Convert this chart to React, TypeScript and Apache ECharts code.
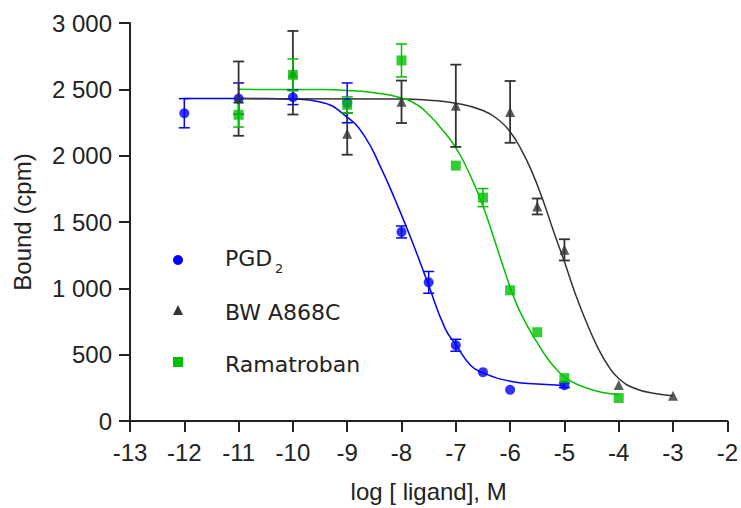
import React, { useEffect, useRef } from "react";
import * as echarts from "echarts";

// ---- Data ----
const xTicks = [-13, -12, -11, -10, -9, -8, -7, -6, -5, -4, -3, -2];
const yTicks = [0, 500, 1000, 1500, 2000, 2500, 3000];

const seriesNames = ["PGD2", "BW A868C", "Ramatroban"];

// PGD2 measured points
const pgdX = [-12, -11, -10, -9, -8, -7.5, -7, -6.5, -6, -5];
const pgdY = [2320, 2430, 2440, 2398, 1425, 1045, 571, 368, 235, 270];
const pgdErr = [110, 118, 55, 150, 45, 82, 45, 0, 0, 18];

// BW A868C measured points
const bwX = [-11, -10, -9, -8, -7, -6, -5.5, -5, -4, -3];
const bwY = [2430, 2625, 2165, 2406, 2376, 2330, 1617, 1290, 271, 190];
const bwErr = [280, 315, 158, 160, 310, 233, 60, 80, 0, 0];

// Ramatroban measured points
const ramX = [-11, -10, -9, -8, -7, -6.5, -6, -5.5, -5, -4];
const ramY = [2308, 2609, 2383, 2718, 1925, 1684, 985, 669, 323, 173];
const ramErr = [92, 120, 60, 124, 0, 68, 0, 0, 0, 0];

// Fitted curves
const pgdFitX = [-12, -10.5, -10, -9.5, -9, -8.67, -8.37, -8.12, -7.82, -7.52, -7.2, -7, -6.73, -6.53, -6, -5.5, -5];
const pgdFitY = [2430, 2430, 2426, 2405, 2290, 2140, 1900, 1670, 1370, 1045, 700, 575, 420, 368, 300, 278, 268];

const bwFitX = [-11, -8, -7.5, -7, -6.5, -6.2, -6, -5.8, -5.6, -5.4, -5.2, -5, -4.8, -4.6, -4.4, -4.2, -4, -3.7, -3.3, -3];
const bwFitY = [2430, 2428, 2418, 2395, 2340, 2265, 2180, 2050, 1880, 1670, 1430, 1200, 960, 750, 565, 420, 320, 245, 205, 190];

const ramFitX = [-11, -9.5, -9, -8.5, -8, -7.7, -7.5, -7.3, -7.1, -6.9, -6.7, -6.5, -6.3, -6.1, -5.9, -5.7, -5.5, -5.3, -5.1, -4.9, -4.6, -4.3, -4];
const ramFitY = [2500, 2498, 2492, 2475, 2435, 2380, 2310, 2220, 2120, 1990, 1820, 1620, 1380, 1130, 900, 730, 590, 465, 370, 305, 250, 215, 200];

const BLUE = "#0000ff";
const DARK = "#333333";
const GREEN = "#00c000";
const AXIS_FONT = "Liberation Sans";
const LEGEND_FONT = "DejaVu Sans";

function zip(xs: number[], ys: number[]) {
  return xs.map((x, i) => [x, ys[i]]);
}
function errData(xs: number[], ys: number[], es: number[]) {
  return xs
    .map((x, i) => [x, ys[i] - es[i], ys[i] + es[i]])
    .filter((_, i) => es[i] > 0);
}

function errSeries(name: string, data: number[][], color: string, lw: number, z: number) {
  return {
    type: "custom",
    name: name + " err",
    data,
    z,
    encode: { x: 0, y: [1, 2] },
    renderItem: (params: any, api: any) => {
      const x = api.value(0);
      const lo = api.coord([x, api.value(1)]);
      const hi = api.coord([x, api.value(2)]);
      const hw = 5.5;
      const style = { stroke: color, lineWidth: lw };
      return {
        type: "group",
        children: [
          { type: "line", shape: { x1: lo[0], y1: lo[1], x2: hi[0], y2: hi[1] }, style },
          { type: "line", shape: { x1: lo[0] - hw, y1: lo[1], x2: lo[0] + hw, y2: lo[1] }, style },
          { type: "line", shape: { x1: hi[0] - hw, y1: hi[1], x2: hi[0] + hw, y2: hi[1] }, style },
        ],
      };
    },
  };
}

function fitSeries(name: string, data: number[][], color: string) {
  return {
    type: "line",
    name,
    data,
    smooth: 0.5,
    showSymbol: false,
    lineStyle: { color, width: 1.5 },
    z: 2,
  };
}

export default function App() {
  const ref = useRef<HTMLDivElement>(null);
  useEffect(() => {
    if (!ref.current) return;
    const chart = echarts.init(ref.current, undefined, { renderer: "svg" });
    const axisText = { fontFamily: AXIS_FONT, fontSize: 24, color: "#222" };
    const legendText = { fontFamily: LEGEND_FONT, fontSize: 22, fill: "#222", verticalAlign: "middle" };
    chart.setOption({
      animation: false,
      backgroundColor: "#ffffff",
      grid: { left: 130, right: 11, top: 23, bottom: 86 },
      xAxis: {
        type: "value",
        min: -13,
        max: -2,
        interval: 1,
        name: "log [ ligand], M",
        nameLocation: "middle",
        nameGap: 58,
        nameTextStyle: axisText,
        axisLine: { show: true, onZero: false, lineStyle: { color: "#222", width: 2 } },
        axisTick: { show: true, length: 11, lineStyle: { color: "#222", width: 2 } },
        axisLabel: {
          ...axisText,
          margin: 19,
          formatter: (v: number) => (xTicks.includes(v) ? String(v) : ""),
        },
        splitLine: { show: false },
      },
      yAxis: {
        type: "value",
        min: 0,
        max: 3000,
        interval: 500,
        name: "Bound (cpm)",
        nameLocation: "middle",
        nameGap: 96,
        nameTextStyle: axisText,
        axisLine: { show: true, onZero: false, lineStyle: { color: "#222", width: 2 } },
        axisTick: { show: true, length: 11, lineStyle: { color: "#222", width: 2 } },
        axisLabel: {
          ...axisText,
          margin: 18,
          formatter: (v: number) => {
            if (!yTicks.includes(v)) return "";
            if (v >= 1000) {
              const th = Math.floor(v / 1000);
              const rest = String(v % 1000).padStart(3, "0");
              return th + " " + rest;
            }
            return String(v);
          },
        },
        splitLine: { show: false },
      },
      series: [
        fitSeries("PGD2 fit", zip(pgdFitX, pgdFitY), BLUE),
        fitSeries("BW A868C fit", zip(bwFitX, bwFitY), DARK),
        fitSeries("Ramatroban fit", zip(ramFitX, ramFitY), GREEN),
        errSeries(seriesNames[0], errData(pgdX, pgdY, pgdErr), BLUE, 1.5, 3),
        errSeries(seriesNames[1], errData(bwX, bwY, bwErr), DARK, 1.8, 3),
        errSeries(seriesNames[2], errData(ramX, ramY, ramErr), GREEN, 1.5, 3),
        { type: "scatter", name: seriesNames[0], data: zip(pgdX, pgdY), symbol: "circle", symbolSize: 10, itemStyle: { color: BLUE }, z: 4 },
        { type: "scatter", name: seriesNames[1], data: zip(bwX, bwY), symbol: "triangle", symbolSize: 10, itemStyle: { color: DARK }, z: 4 },
        { type: "scatter", name: seriesNames[2], data: zip(ramX, ramY), symbol: "rect", symbolSize: 10, itemStyle: { color: GREEN }, z: 5 },
      ],
      graphic: [
        { type: "circle", shape: { cx: 178, cy: 260, r: 5 }, style: { fill: BLUE } },
        { type: "polygon", shape: { points: [[173, 315], [183, 315], [178, 305]] }, style: { fill: DARK } },
        { type: "rect", shape: { x: 173, y: 357, width: 10, height: 10 }, style: { fill: GREEN } },
        { type: "text", x: 225, y: 258, style: { text: "PGD", ...legendText } },
        { type: "text", x: 275, y: 268, style: { text: "2", ...legendText, fontSize: 13 } },
        { type: "text", x: 225, y: 312, style: { text: "BW A868C", ...legendText } },
        { type: "text", x: 225, y: 364, style: { text: "Ramatroban", ...legendText } },
      ],
    });
    return () => chart.dispose();
  }, []);
  return <div ref={ref} style={{ width: 741, height: 508, position: "absolute", left: 0, top: 0 }} />;
}
